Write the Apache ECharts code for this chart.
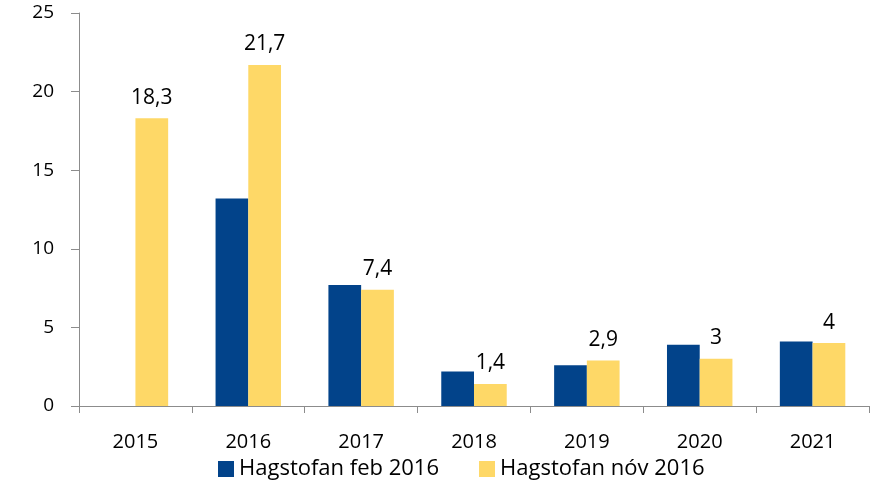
<!DOCTYPE html>
<html>
<head>
<meta charset="utf-8">
<script src="https://cdn.jsdelivr.net/npm/echarts@6/dist/echarts.min.js"></script>
<style>
html, body { margin: 0; padding: 0; background: #fff; }
#chart { width: 874px; height: 489px; }
</style>
</head>
<body>
<div id="chart"></div>
<script>
// ár
var years = ["2015", "2016", "2017", "2018", "2019", "2020", "2021"];
// Hagstofan feb 2016
var febValues = [null, 13.2, 7.7, 2.2, 2.6, 3.9, 4.1];
// Hagstofan nóv 2016
var novValues = [18.3, 21.7, 7.4, 1.4, 2.9, 3, 4];
var seriesNames = ["Hagstofan feb 2016", "Hagstofan nóv 2016"];

var font = "'Open Sans', sans-serif";
var chart = echarts.init(document.getElementById("chart"));

chart.setOption({
	animation : false,
	textStyle : {
		fontFamily : font
	},
	grid : {
		left : 79,
		right : 5,
		top : 13,
		bottom : 83
	},
	legend : {
		data : seriesNames,
		bottom : 4,
		left : 213,
		itemWidth : 16,
		itemHeight : 16,
		itemGap : 40,
		icon : 'rect',
		textStyle : {
			fontSize : 22,
			color : '#000',
			fontFamily : font
		}
	},
	xAxis : {
		type : 'category',
		data : years,
		axisLine : {
			lineStyle : { color : '#8c8c8c' }
		},
		axisTick : {
			show : true,
			length : 7,
			lineStyle : { color : '#8c8c8c' }
		},
		axisLabel : {
			color : '#000',
			fontSize : 20,
			margin : 26,
			fontFamily : font
		}
	},
	yAxis : {
		type : 'value',
		min : 0,
		max : 25,
		interval : 5,
		splitLine : { show : false },
		axisLine : {
			show : true,
			lineStyle : { color : '#8c8c8c' }
		},
		axisTick : {
			show : true,
			length : 8,
			lineStyle : { color : '#8c8c8c' }
		},
		axisLabel : {
			color : '#000',
			fontSize : 19,
			margin : 25,
			fontFamily : font
		}
	},
	series : [ {
		name : seriesNames[0],
		type : 'bar',
		data : febValues,
		barGap : '0%',
		barCategoryGap : '42%',
		itemStyle : { color : '#02438A' }
	}, {
		name : seriesNames[1],
		type : 'bar',
		data : novValues,
		barGap : '0%',
		barCategoryGap : '42%',
		itemStyle : { color : '#FED867' },
		label : {
			show : true,
			position : 'top',
			distance : 10,
			color : '#000',
			fontSize : 21,
			fontFamily : font,
			formatter : function(p) {
				return String(p.value).replace('.', ',');
			}
		}
	} ]
});
</script>
</body>
</html>
